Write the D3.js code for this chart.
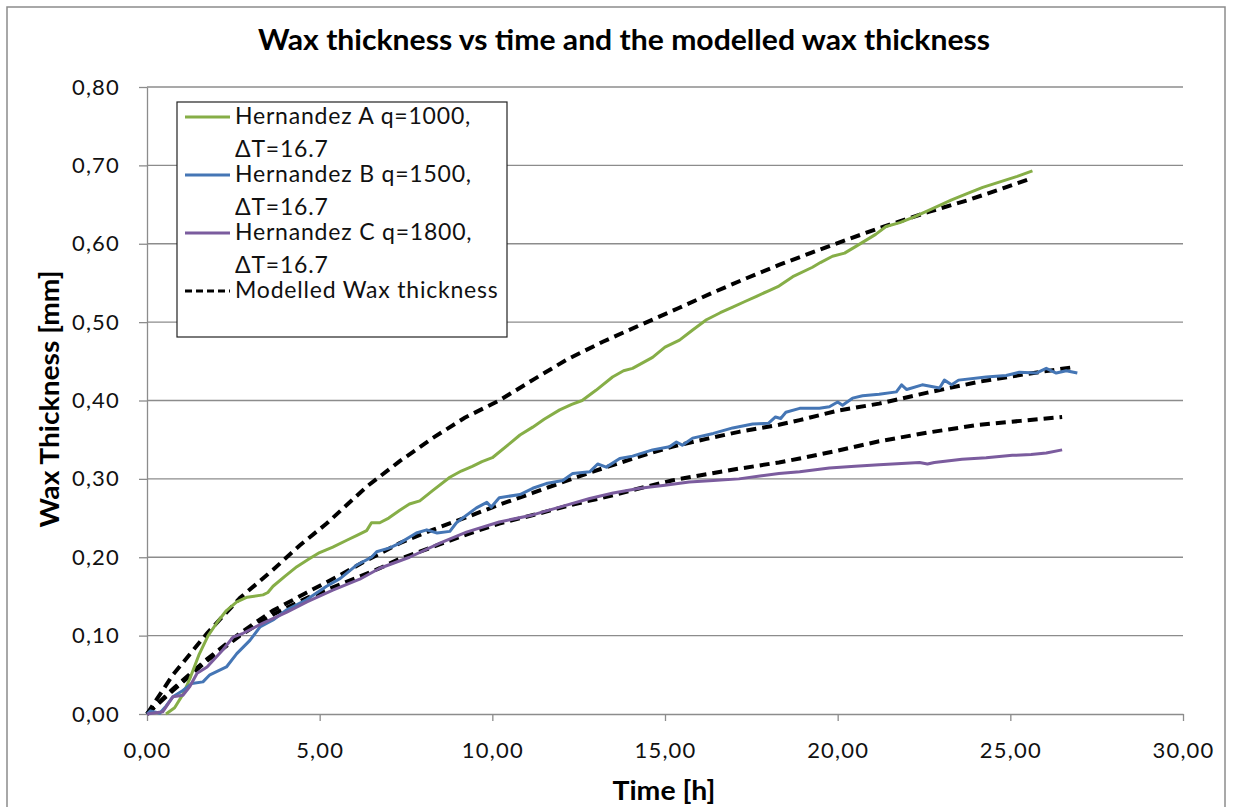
<!DOCTYPE html>
<meta charset="utf-8">
<html>
<head>
  <title>Wax thickness vs time</title>
  <style>
    body { margin: 0; background: #fff; }
    svg { display: block; font-family: Lato, 'Open Sans', sans-serif; }
    .grid line { stroke: #8c8c8c; stroke-width: 1.3px; }
    .axis path, .axis line { stroke: #8c8c8c; stroke-width: 1.3px; }
    .axis text { font-size: 22px; letter-spacing: 1.2px; fill: #111; font-family: Lato, sans-serif; }
    .series { fill: none; stroke-width: 3px; stroke-linejoin: round; }
    .model { fill: none; stroke: #000; stroke-width: 4px; stroke-dasharray: 10 6; }
    .legend text { font-size: 23px; letter-spacing: 0.8px; fill: #111; }
  </style>
  <script src="https://d3js.org/d3.v7.min.js"></script>
</head>
<body>
<svg width="1239" height="807"></svg>
<script>
  // measured wax thickness [mm] against time [h]
  var hoursA = [0.55,0.8,1.04,1.24,1.5,1.77,2.05,2.3,2.6,2.9,3.36,3.5,3.65,4.0,4.34,4.7,5.0,5.38,5.8,6.08,6.36,6.5,6.74,7.0,7.32,7.6,7.9,8.27,8.77,9.1,9.42,9.7,10.0,10.5,10.8,11.17,11.5,11.95,12.3,12.6,13.0,13.48,13.8,14.06,14.64,15.0,15.42,15.8,16.2,16.6,16.96,17.3,17.65,18.0,18.3,18.7,19.27,19.5,19.85,20.2,20.54,21.1,21.4,21.8,22.2,22.7,23.3,23.8,24.2,24.7,25.2,25.64];
  var thickA = [0,0.008,0.025,0.045,0.075,0.1,0.118,0.132,0.143,0.149,0.152,0.155,0.163,0.176,0.188,0.198,0.206,0.213,0.222,0.228,0.234,0.244,0.244,0.25,0.26,0.268,0.272,0.285,0.302,0.31,0.316,0.322,0.327,0.345,0.356,0.366,0.376,0.388,0.395,0.4,0.413,0.43,0.438,0.441,0.455,0.468,0.477,0.49,0.503,0.512,0.519,0.526,0.533,0.54,0.546,0.558,0.57,0.576,0.584,0.588,0.597,0.612,0.622,0.627,0.634,0.644,0.656,0.665,0.672,0.679,0.686,0.693];

  var hoursB = [0,0.1,0.37,0.55,0.75,1.04,1.3,1.62,1.82,2.3,2.6,2.98,3.27,3.65,4.05,4.63,5.2,5.6,6.07,6.5,6.65,7.03,7.32,7.8,8.1,8.4,8.77,8.96,9.54,9.84,9.97,10.2,10.8,11.17,11.56,12.04,12.33,12.82,13.05,13.3,13.69,14.06,14.64,15.13,15.33,15.5,15.8,16.4,16.96,17.54,18.0,18.2,18.35,18.5,18.9,19.47,19.76,20.0,20.14,20.43,20.72,21.2,21.7,21.85,22.0,22.45,22.95,23.09,23.3,23.5,24.3,24.88,25.26,25.75,26.04,26.33,26.62,26.94];
  var thickB = [0,0.004,0.001,0.01,0.022,0.03,0.039,0.041,0.05,0.06,0.077,0.094,0.111,0.12,0.133,0.146,0.163,0.173,0.19,0.2,0.207,0.212,0.218,0.231,0.235,0.231,0.233,0.244,0.263,0.27,0.264,0.276,0.28,0.288,0.294,0.298,0.307,0.309,0.319,0.315,0.326,0.329,0.337,0.341,0.347,0.343,0.352,0.358,0.365,0.37,0.371,0.379,0.377,0.385,0.39,0.39,0.392,0.398,0.394,0.403,0.406,0.408,0.411,0.42,0.414,0.42,0.416,0.426,0.42,0.426,0.43,0.432,0.436,0.435,0.441,0.435,0.438,0.435];

  var hoursC = [0,0.46,0.75,1.04,1.24,1.45,1.74,2.2,2.49,2.78,3.36,4.05,4.63,5.38,6.16,6.74,7.6,8.48,9.25,10.2,11.17,11.95,12.82,13.5,14.27,15.0,15.7,16.4,17.14,17.8,18.3,18.9,19.76,20.5,21.2,22.37,22.6,22.8,23.6,24.3,25.06,25.6,26.04,26.5];
  var thickC = [0,0.003,0.022,0.024,0.035,0.052,0.06,0.082,0.098,0.103,0.116,0.13,0.143,0.158,0.172,0.186,0.2,0.218,0.232,0.245,0.254,0.264,0.275,0.282,0.288,0.292,0.296,0.298,0.3,0.304,0.307,0.309,0.314,0.316,0.318,0.321,0.319,0.321,0.325,0.327,0.33,0.331,0.333,0.337];

  // modelled wax thickness for each case
  var modelHoursA = [0,0.75,1.74,2.69,3.65,4.42,5.2,6.36,7.3,8.27,9.2,10.2,11.2,12.15,13.2,14.27,15.4,16.4,17.36,18.3,19.76,21.2,22.66,23.8,24.8,25.64];
  var modelA = [0,0.05,0.103,0.148,0.184,0.215,0.243,0.29,0.322,0.352,0.378,0.4,0.427,0.452,0.475,0.496,0.518,0.538,0.556,0.573,0.597,0.62,0.641,0.656,0.671,0.684];
  var modelHoursB = [0,0.75,1.74,2.69,3.65,4.63,5.58,6.36,7.32,8.27,9.25,10.2,11.17,12.3,13.3,14.3,15.2,16.2,17.14,18.3,18.9,20.0,21.2,22.6,24.1,25.5,26.9];
  var modelB = [0,0.032,0.07,0.103,0.132,0.155,0.177,0.196,0.218,0.235,0.251,0.267,0.282,0.3,0.315,0.329,0.341,0.351,0.36,0.369,0.375,0.387,0.396,0.41,0.424,0.434,0.443];
  var modelHoursC = [0,0.75,1.74,2.69,3.65,4.63,5.58,6.74,7.32,8.27,9.25,10.2,11.37,12.3,13.3,14.27,15.2,16.2,17.14,18.3,18.9,20.0,21.2,22.6,24.1,25.3,26.5];
  var modelC = [0,0.03,0.068,0.1,0.127,0.148,0.165,0.186,0.198,0.213,0.229,0.243,0.256,0.267,0.277,0.288,0.298,0.306,0.313,0.321,0.326,0.336,0.348,0.359,0.369,0.374,0.379];

  var xTicks = [0,5,10,15,20,25,30];
  var yTicks = [0,0.1,0.2,0.3,0.4,0.5,0.6,0.7,0.8];

  var seriesNames = ["Hernandez A q=1000,", "Hernandez B q=1500,", "Hernandez C q=1800,"];
  var seriesSub = "\u0394T=16.7";
  var seriesColors = ["#86ae47", "#4576b5", "#7b5c9e"];
  var modelName = "Modelled Wax thickness";

  var svg = d3.select("svg");

  // chart area frame
  svg.append("rect")
    .attr("x", 7).attr("y", 7)
    .attr("width", 1218).attr("height", 830)
    .attr("fill", "#fff")
    .attr("stroke", "#8c8c8c").attr("stroke-width", 1.5);

  var x = d3.scaleLinear().domain([0, 30]).range([147, 1183]);
  var y = d3.scaleLinear().domain([0, 0.8]).range([714, 87]);
  var fmt = function(d) { return d3.format(".2f")(d).replace(".", ","); };

  // horizontal gridlines
  svg.append("g").attr("class", "grid")
    .selectAll("line")
    .data(yTicks.slice(1))
    .enter().append("line")
      .attr("x1", x(0)).attr("x2", x(30))
      .attr("y1", function(d) { return y(d); })
      .attr("y2", function(d) { return y(d); });

  svg.append("g").attr("class", "axis")
    .attr("transform", "translate(0," + y(0) + ")")
    .call(d3.axisBottom(x).tickValues(xTicks).tickFormat(fmt)
      .tickSize(7).tickSizeOuter(0).tickPadding(21));

  svg.append("g").attr("class", "axis")
    .attr("transform", "translate(" + x(0) + ",0)")
    .call(d3.axisLeft(y).tickValues(yTicks).tickFormat(fmt)
      .tickSize(8).tickSizeOuter(0).tickPadding(19));

  var line = d3.line()
    .x(function(d) { return x(d[0]); })
    .y(function(d) { return y(d[1]); });

  var measured = [[hoursA, thickA], [hoursB, thickB], [hoursC, thickC]];
  var modelled = [[modelHoursA, modelA], [modelHoursB, modelB], [modelHoursC, modelC]];

  svg.selectAll(".model")
    .data(modelled)
    .enter().append("path")
      .attr("class", "model")
      .attr("d", function(s) { return line(d3.zip(s[0], s[1])); });

  svg.selectAll(".series")
    .data(measured)
    .enter().append("path")
      .attr("class", "series")
      .style("stroke", function(s, i) { return seriesColors[i]; })
      .attr("d", function(s) { return line(d3.zip(s[0], s[1])); });

  // titles
  svg.append("text")
    .attr("x", 624).attr("y", 50)
    .attr("text-anchor", "middle")
    .attr("textLength", 732).attr("lengthAdjust", "spacingAndGlyphs")
    .style("font-size", "28px").style("font-weight", "bold")
    .text("Wax thickness vs time and the modelled wax thickness");

  svg.append("text")
    .attr("transform", "translate(59,399) rotate(-90)")
    .attr("text-anchor", "middle")
    .attr("textLength", 257).attr("lengthAdjust", "spacingAndGlyphs")
    .style("font-size", "26px").style("font-weight", "bold")
    .text("Wax Thickness [mm]");

  svg.append("text")
    .attr("x", 664).attr("y", 800)
    .attr("text-anchor", "middle")
    .attr("textLength", 103).attr("lengthAdjust", "spacingAndGlyphs")
    .style("font-size", "26px").style("font-weight", "bold")
    .text("Time [h]");

  // legend
  var legend = svg.append("g").attr("class", "legend");
  legend.append("rect")
    .attr("x", 177).attr("y", 102)
    .attr("width", 330).attr("height", 235)
    .attr("fill", "#fff").attr("stroke", "#222").attr("stroke-width", 1.2);

  var rows = legend.selectAll(".entry")
    .data(seriesNames)
    .enter().append("g")
      .attr("class", "entry")
      .attr("transform", function(d, i) { return "translate(0," + (i * 58) + ")"; });

  rows.append("line")
    .attr("x1", 185).attr("x2", 230)
    .attr("y1", 117).attr("y2", 117)
    .style("stroke", function(d, i) { return seriesColors[i]; })
    .style("stroke-width", 3);

  rows.append("text")
    .attr("x", 235).attr("y", 124)
    .text(function(d) { return d; });

  rows.append("text")
    .attr("x", 235).attr("y", 157)
    .text(seriesSub);

  legend.append("line")
    .attr("x1", 185).attr("x2", 230)
    .attr("y1", 291).attr("y2", 291)
    .attr("class", "model")
    .style("stroke-width", 3)
    .style("stroke-dasharray", "7 4");

  legend.append("text")
    .attr("x", 235).attr("y", 298)
    .text(modelName);
</script>
</body>
</html>
